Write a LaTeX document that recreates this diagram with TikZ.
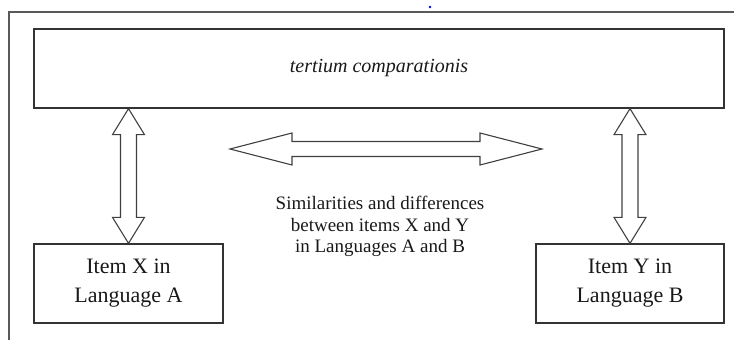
\documentclass[tikz,border=0pt]{standalone}
\usepackage{fontspec}
\setmainfont{Liberation Serif}
\newfontfamily\tnr{Liberation Serif}
\usetikzlibrary{calc}
\begin{document}
\begin{tikzpicture}[x=1pt,y=1pt,
  box/.style={draw=black!80, line width=1.3pt, inner sep=0pt, align=center},
  fat/.style={draw=black!75, line width=1.1pt, line join=miter},
  frame/.style={draw=black!65, line width=1.3pt},
  boxtext/.style={font=\tnr\fontsize{22}{29}\selectfont, text=black!90},
  midtext/.style={align=center, font=\tnr\fontsize{19}{21.5}\selectfont, text=black!90}]
\useasboundingbox (0,0) rectangle (734,-340);
\draw[frame] (9,-340) -- (9,-12) -- (734,-12);
\fill[blue] (430,-7) circle (1.4);
\node[box, minimum width=690, minimum height=79, text=black!90, font=\tnr\fontsize{20}{24}\selectfont\itshape] (top) at (379,-68.5)
  {tertium comparationis};
\node[box, boxtext, minimum width=189, minimum height=79] (itemx) at (128.5,-283.5) {Item X in\\Language A};
\node[box, boxtext, minimum width=188, minimum height=79] (itemy) at (630,-283.5) {Item Y in\\Language B};
\node[midtext] (sim) at (380,-226.5) {Similarities and differences\\between items X and Y\\in Languages A and B};
% vertical double arrows
\coordinate (xa) at (itemx.north |- top.south);
\coordinate (xb) at (itemx.north);
\coordinate (ya) at (itemy.north |- top.south);
\coordinate (yb) at (itemy.north);
\draw[fat] (xa) -- ++(-16,-26) -- ++(8,0) -- ($(xb)+(-8,26)$) -- ++(-8,0) -- (xb)
  -- ++(16,26) -- ++(-8,0) -- ($(xa)+(8,-26)$) -- ++(8,0) -- cycle;
\draw[fat] (ya) -- ++(-16,-26) -- ++(8,0) -- ($(yb)+(-8,26)$) -- ++(-8,0) -- (yb)
  -- ++(16,26) -- ++(-8,0) -- ($(ya)+(8,-26)$) -- ++(8,0) -- cycle;
% horizontal double arrow
\coordinate (hl) at (230,-149);
\coordinate (hr) at (542,-149);
\draw[fat] (hl) -- ++(62,16) -- ++(0,-8.5) -- ($(hr)+(-62,7.5)$) -- ++(0,8.5) -- (hr)
  -- ++(-62,-16) -- ++(0,8.5) -- ($(hl)+(62,-7.5)$) -- ++(0,-8.5) -- cycle;
\end{tikzpicture}
\end{document}
